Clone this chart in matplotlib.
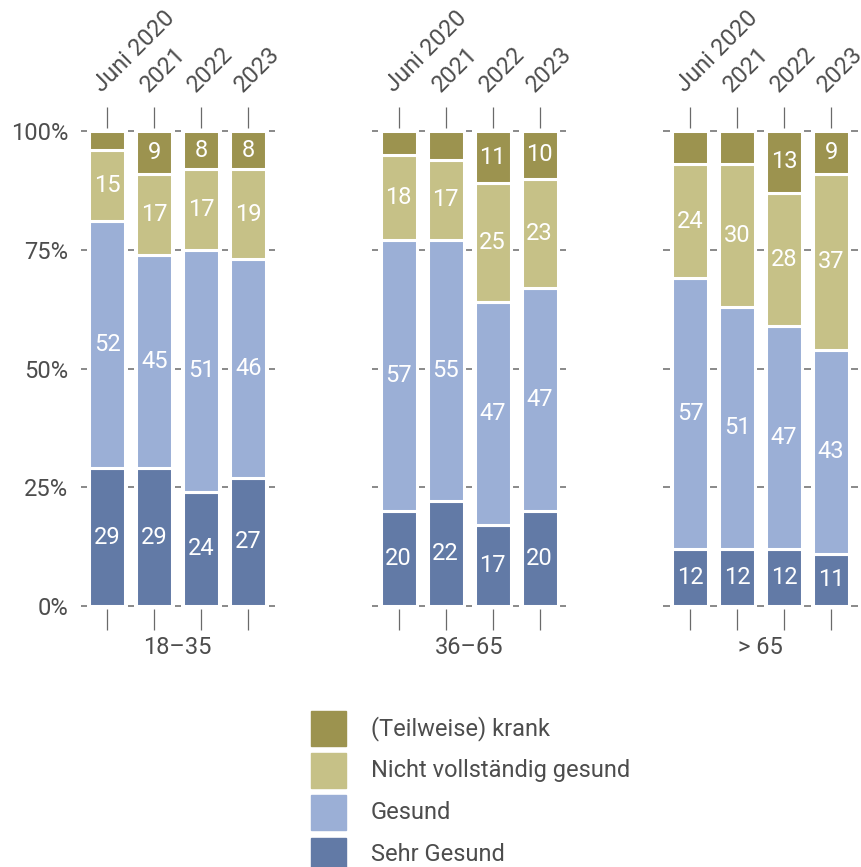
import matplotlib
matplotlib.use("Agg")
import matplotlib.pyplot as plt
import matplotlib.transforms as mtrans
from matplotlib.patches import Rectangle
import numpy as np

plt.rcParams['font.family'] = ['Roboto', 'DejaVu Sans']

# ---------------- data ----------------
years = ["Juni 2020", "2021", "2022", "2023"]
groups = ["18–35", "36–65", "> 65"]
categories = ["Sehr Gesund", "Gesund", "Nicht vollständig gesund", "(Teilweise) krank"]

sehr_gesund = [[29, 29, 24, 27], [20, 22, 17, 20], [12, 12, 12, 11]]
gesund = [[52, 45, 51, 46], [57, 55, 47, 47], [57, 51, 47, 43]]
nicht_vollstaendig = [[15, 17, 17, 19], [18, 17, 25, 23], [24, 30, 28, 37]]
krank = [[4, 9, 8, 8], [5, 6, 11, 10], [7, 7, 13, 9]]

colors = ["#627AA6", "#9BAFD6", "#C6C187", "#9C934F"]
y_ticks = [0, 25, 50, 75, 100]
y_ticklabels = ["0%", "25%", "50%", "75%", "100%"]
label_min = 8

# ---------------- layout ----------------
W, H = 861, 867
fig = plt.figure(figsize=(W / 100, H / 100), dpi=100)
step = 47.0
centers0 = [107.3, 398.5, 690.0]
xpad = 0.6
top_px, bot_px = 127.7, 609.3
txt_color = "#4d4d4d"
tick_color = "#6a6a6a"
fs = 17

for gi, g in enumerate(groups):
    left = centers0[gi] - xpad * step
    ax = fig.add_axes([left / W, 1 - bot_px / H, (3 + 2 * xpad) * step / W,
                       (bot_px - top_px) / H])
    ax.set_xlim(-xpad, 3 + xpad)
    ax.set_ylim(-0.7, 100.7)
    for s in ax.spines.values():
        s.set_visible(False)
    x = np.arange(len(years))
    bottom = np.zeros(len(years))
    series = [sehr_gesund[gi], gesund[gi], nicht_vollstaendig[gi], krank[gi]]
    for vals, c in zip(series, colors):
        vals = np.array(vals, dtype=float)
        ax.bar(x, vals, bottom=bottom, width=36 / 47, color=c,
               edgecolor='white', linewidth=2.2, zorder=3)
        for xi, v, b in zip(x, vals, bottom):
            if v >= label_min:
                ax.text(xi, b + v / 2, f"{int(v)}", ha='center', va='center',
                        color='white', fontsize=fs, zorder=4)
        bottom += vals

    # short dashes between bars at y ticks
    gaps = np.arange(len(years) + 1) - 0.5
    for yt in y_ticks:
        ax.hlines([yt] * len(gaps), gaps - 0.065, gaps + 0.065, color=tick_color,
                  lw=1.1, zorder=2, clip_on=False)

    ax.set_xticks(x)
    ax.tick_params(axis='x', top=True, bottom=True, labeltop=False,
                   labelbottom=False, length=15, width=0.9, color=tick_color)
    tr = mtrans.offset_copy(ax.get_xaxis_transform(), fig=fig, x=-5,
                            y=top_px - 93, units='dots')
    for xi, lab in zip(x, years):
        ax.text(xi, 1, lab, transform=tr, rotation=45, rotation_mode='anchor',
                ha='left', va='baseline', fontsize=fs, color=txt_color)

    ax.set_yticks(y_ticks)
    if gi == 0:
        ax.set_yticklabels(y_ticklabels)
        ax.tick_params(axis='y', length=0, pad=8, labelsize=fs, labelcolor=txt_color)
    else:
        ax.tick_params(axis='y', length=0, labelleft=False)

    fig.text((centers0[gi] + 1.5 * step) / W, 1 - 648 / H, g, ha='center',
             va='center', fontsize=fs, color=txt_color)

# ---------------- legend ----------------
leg_x, leg_top, sq, row = 311, 711, 34.5, 42.2
for i, (lab, c) in enumerate(zip(categories[::-1], colors[::-1])):
    y0 = leg_top + i * row
    fig.patches.append(Rectangle((leg_x / W, 1 - (y0 + sq) / H), sq / W, sq / H,
                                 transform=fig.transFigure, color=c))
    fig.text(371 / W, 1 - (y0 + sq / 2) / H, lab, ha='left', va='center',
             fontsize=fs, color=txt_color)

fig.savefig("out.png", dpi=100)
